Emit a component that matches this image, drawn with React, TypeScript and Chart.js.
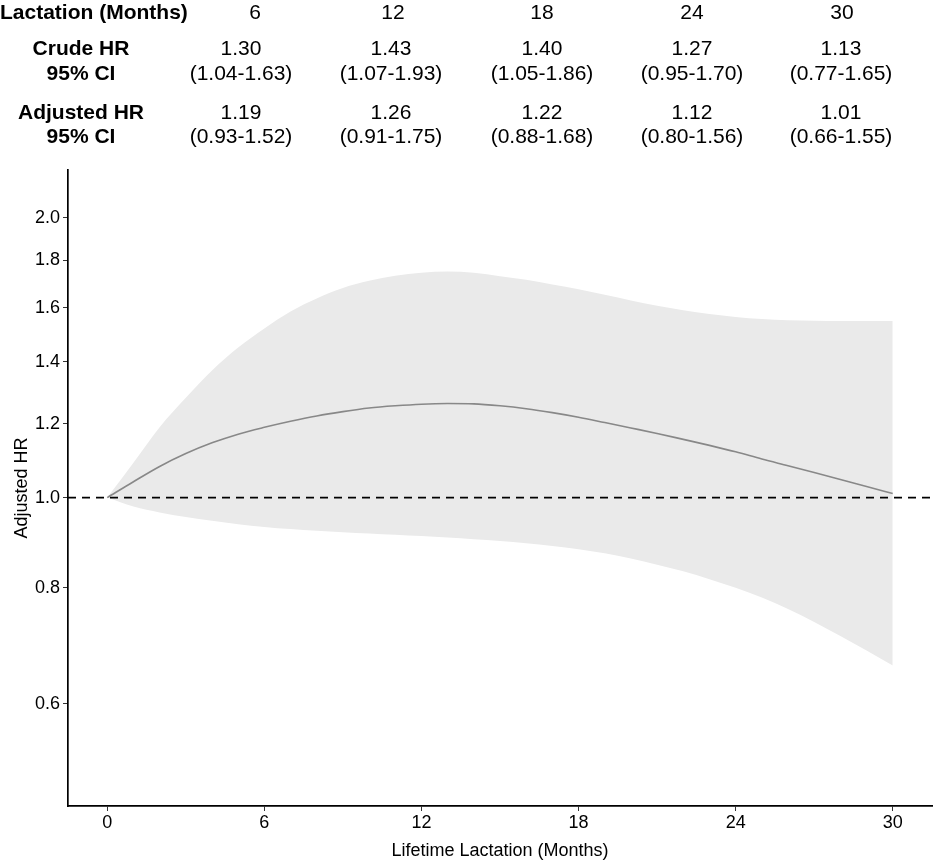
import React, { useEffect, useRef } from "react";
import { Chart, registerables } from "chart.js";

Chart.register(...registerables);

// ---- data ----
const months = [0, 1, 2, 3, 4, 5, 6, 7, 8, 9, 10, 11, 12, 13, 14, 15, 16, 17, 18, 19, 20, 21, 22, 23, 24, 25, 26, 27, 28, 29, 30];
const hrFit = [1.0, 1.04, 1.08, 1.115, 1.145, 1.17, 1.19, 1.208, 1.224, 1.237, 1.248, 1.255, 1.26, 1.262, 1.261, 1.255, 1.246, 1.234, 1.22, 1.204, 1.188, 1.172, 1.155, 1.138, 1.12, 1.1, 1.082, 1.064, 1.046, 1.028, 1.01];
const ciUpper = [1.0, 1.09, 1.19, 1.28, 1.37, 1.45, 1.52, 1.585, 1.637, 1.68, 1.71, 1.732, 1.745, 1.75, 1.745, 1.73, 1.715, 1.695, 1.675, 1.652, 1.629, 1.608, 1.59, 1.575, 1.564, 1.556, 1.551, 1.549, 1.548, 1.548, 1.548];
const ciLower = [1.0, 0.978, 0.964, 0.953, 0.944, 0.936, 0.93, 0.925, 0.921, 0.918, 0.915, 0.912, 0.909, 0.906, 0.902, 0.898, 0.893, 0.887, 0.88, 0.871, 0.86, 0.847, 0.833, 0.817, 0.8, 0.781, 0.759, 0.735, 0.71, 0.685, 0.66];
const refLineX = [-1.5, 31.5];
const refLineY = 1.0;

const xTicks = [0, 6, 12, 18, 24, 30];
const yTicks = [0.6, 0.8, 1.0, 1.2, 1.4, 1.6, 1.8, 2.0];

const tableMonths = ["6", "12", "18", "24", "30"];
const crudeHR = ["1.30", "1.43", "1.40", "1.27", "1.13"];
const crudeCI = ["(1.04-1.63)", "(1.07-1.93)", "(1.05-1.86)", "(0.95-1.70)", "(0.77-1.65)"];
const adjHR = ["1.19", "1.26", "1.22", "1.12", "1.01"];
const adjCI = ["(0.93-1.52)", "(0.91-1.75)", "(0.88-1.68)", "(0.80-1.56)", "(0.66-1.55)"];
const headerLabel = "Lactation (Months)";
const rowLabels = ["Crude HR", "95% CI", "Adjusted HR", "95% CI"];

// layout (pixels) of the table above the plot
const TABLE_COL_X = [241, 391, 542, 692, 841];
const TABLE_HEAD_X = [255, 393, 542, 692, 842];
const TABLE_ROW_Y = [49, 74, 113, 137];
const TABLE_HEAD_Y = 13;
const LABEL_X = 81;

const FONT = '"Liberation Sans", Arial, Helvetica, sans-serif';

const tablePlugin = {
  id: "hrTable",
  afterDraw(chart: any) {
    const ctx = chart.ctx;
    ctx.save();
    ctx.fillStyle = "#000";
    ctx.textBaseline = "middle";
    ctx.font = `bold 21px ${FONT}`;
    ctx.textAlign = "left";
    ctx.fillText(headerLabel, 0, TABLE_HEAD_Y);
    ctx.textAlign = "center";
    rowLabels.forEach((t, i) => ctx.fillText(t, LABEL_X, TABLE_ROW_Y[i]));
    ctx.font = `21px ${FONT}`;
    tableMonths.forEach((m, i) => {
      ctx.fillText(m, TABLE_HEAD_X[i], TABLE_HEAD_Y);
      const px = TABLE_COL_X[i];
      ctx.fillText(crudeHR[i], px, TABLE_ROW_Y[0]);
      ctx.fillText(crudeCI[i], px, TABLE_ROW_Y[1]);
      ctx.fillText(adjHR[i], px, TABLE_ROW_Y[2]);
      ctx.fillText(adjCI[i], px, TABLE_ROW_Y[3]);
    });
    ctx.restore();
  },
};

export default function App() {
  const ref = useRef<HTMLCanvasElement | null>(null);
  useEffect(() => {
    if (!ref.current) return;
    const chart = new Chart(ref.current, {
      type: "line",
      data: {
        datasets: [
          {
            label: "upper",
            data: months.map((m, i) => ({ x: m, y: ciUpper[i] })),
            borderWidth: 0,
            borderColor: "rgba(0,0,0,0)",
            backgroundColor: "#eaeaea",
            pointRadius: 0,
            fill: "+1",
            cubicInterpolationMode: "monotone",
            order: 3,
          },
          {
            label: "lower",
            data: months.map((m, i) => ({ x: m, y: ciLower[i] })),
            borderWidth: 0,
            borderColor: "rgba(0,0,0,0)",
            pointRadius: 0,
            fill: false,
            cubicInterpolationMode: "monotone",
            order: 3,
          },
          {
            label: "ref",
            data: refLineX.map((x) => ({ x, y: refLineY })),
            borderColor: "#000",
            borderWidth: 1.7,
            borderDash: [8, 6],
            pointRadius: 0,
            fill: false,
            order: 1,
          },
          {
            label: "fit",
            data: months.map((m, i) => ({ x: m, y: hrFit[i] })),
            borderColor: "#888888",
            borderWidth: 1.6,
            pointRadius: 0,
            fill: false,
            cubicInterpolationMode: "monotone",
            order: 2,
          },
        ],
      },
      options: {
        animation: false,
        responsive: false,
        maintainAspectRatio: false,
        layout: { padding: { top: 170, right: 3, left: 0, bottom: 0 } },
        plugins: { legend: { display: false }, tooltip: { enabled: false } },
        scales: {
          x: {
            type: "linear",
            min: -1.5,
            max: 31.5,
            afterBuildTicks: (s: any) => {
              s.ticks = xTicks.map((v) => ({ value: v }));
            },
            afterFit: (s: any) => {
              s.height = 56;
            },
            ticks: {
              color: "#000",
              font: { size: 18, family: FONT },
              padding: 1,
              callback: (v: any) => String(v),
              maxRotation: 0,
            },
            grid: { drawOnChartArea: false, drawTicks: true, tickLength: 5, color: "#333", lineWidth: 1 },
            border: { display: true, color: "#000", width: 1.7 },
            title: { display: true, text: "Lifetime Lactation (Months)", color: "#000", font: { size: 18, family: FONT }, padding: { top: 0, bottom: 0 } },
          },
          y: {
            type: "logarithmic",
            min: 0.466,
            max: 2.25,
            afterBuildTicks: (s: any) => {
              s.ticks = yTicks.map((v) => ({ value: v }));
            },
            afterFit: (s: any) => {
              s.width = 68;
            },
            ticks: {
              color: "#000",
              font: { size: 18, family: FONT },
              padding: 3,
              callback: (v: any) => Number(v).toFixed(1),
            },
            grid: { drawOnChartArea: false, drawTicks: true, tickLength: 5, color: "#333", lineWidth: 1 },
            border: { display: true, color: "#000", width: 1.7 },
            title: { display: true, text: "Adjusted HR", color: "#000", font: { size: 18, family: FONT }, padding: { top: 11, bottom: 4 } },
          },
        },
      },
      plugins: [tablePlugin],
    } as any);
    return () => chart.destroy();
  }, []);
  return (
    <div style={{ position: "absolute", left: 0, top: 0, width: 935, height: 862 }}>
      <canvas ref={ref} width={935} height={862} style={{ width: 935, height: 862 }} />
    </div>
  );
}
